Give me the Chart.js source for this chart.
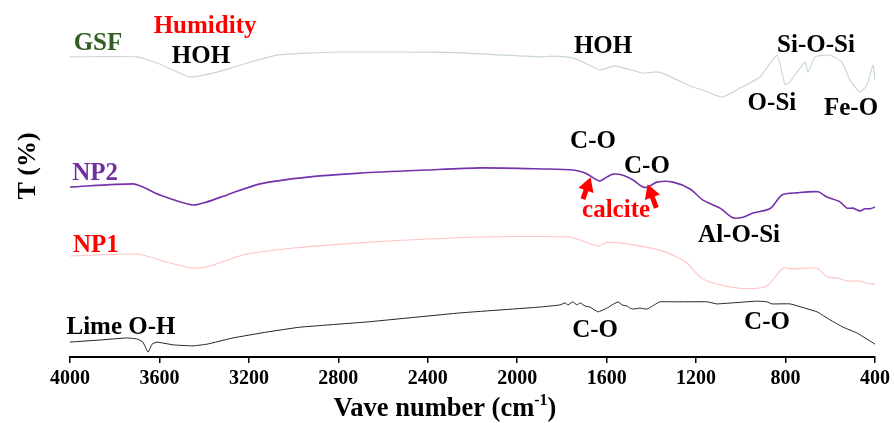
<!DOCTYPE html>
<html>
<head>
<meta charset="utf-8">
<script src="https://cdn.jsdelivr.net/npm/chart.js@4/dist/chart.umd.min.js"></script>
<style>
  html, body { margin: 0; padding: 0; background: #fff; }
  #wrap { width: 894px; height: 423px; }
</style>
</head>
<body>
<div id="wrap"><canvas id="ftir" width="894" height="423"></canvas></div>
<script>
// FTIR spectra, stacked with offsets (wavenumber in cm-1, transmittance in arbitrary %)
const tickValues = [4000, 3600, 3200, 2800, 2400, 2000, 1600, 1200, 800, 400];

const gsfWave = [4000,3700,3611,3530,3463,3343,3240,3074,2806,2314,2064,1885,1844,1751,1661,1630,1563,1438,1393,1362,1214,1169,1084,1004,914,838,802,780,713,700,668,601,548,512,467,436,409,400];
const gsfT    = [86.5,86.5,84.7,82.4,80.7,82.1,84.1,87.0,87.9,87.8,87.0,86.5,86.7,86.2,83.6,82.7,83.9,81.8,82.1,82.1,77.8,76.9,74.9,77.5,80.7,87.0,78.4,79.3,85.0,82.1,86.5,87.0,85.0,79.8,76.4,78.4,84.1,79.8];

const np2Wave = [4000,3718,3674,3598,3450,3387,3298,3150,2927,2703,2403,2166,1885,1751,1697,1643,1630,1598,1572,1527,1482,1438,1415,1375,1303,1227,1169,1093,1035,990,946,883,861,816,749,655,615,557,525,498,467,445,422,400];
const np2T    = [49.0,49.9,49.0,46.7,43.8,44.7,46.7,49.9,51.9,53.0,53.9,54.5,54.2,53.9,53.0,51.0,50.7,51.9,52.7,52.4,51.0,49.0,49.0,50.4,50.4,48.4,45.2,42.9,40.1,40.3,41.5,42.4,43.2,46.7,47.3,47.6,46.1,44.7,42.9,42.9,42.1,42.7,42.7,43.2];

const np1Wave = [4000,3700,3642,3553,3450,3374,3226,3003,2703,2403,2166,1764,1733,1639,1594,1509,1362,1286,1241,1183,1124,1017,914,879,811,767,659,615,570,525,467,436,409,400];
const np1T    = [29.1,29.7,28.8,27.1,25.6,26.2,29.4,31.4,32.9,34.0,34.6,34.6,34.0,32.0,33.1,32.6,30.8,28.8,27.1,23.1,21.3,19.9,19.9,20.7,25.6,25.4,25.6,23.1,22.8,21.9,21.9,21.3,21.0,21.3];

const limeWave = [4000,3866,3745,3700,3674,3651,3633,3611,3539,3450,3387,3271,3119,2971,2672,2256,1898,1809,1786,1773,1751,1733,1719,1697,1675,1639,1598,1576,1549,1531,1509,1496,1482,1451,1420,1362,1303,1151,1107,928,883,861,780,659,601,543,480,400];
const limeT    = [4.3,4.9,5.5,5.2,4.3,1.4,3.7,4.3,3.5,3.2,3.7,5.5,7.2,8.6,10.1,12.7,14.4,15.0,15.6,15.0,15.9,15.0,15.6,14.7,14.4,13.0,14.1,15.0,15.9,15.0,14.7,14.1,13.8,14.1,13.8,15.9,15.9,15.9,15.3,16.1,15.9,15.3,15.3,13.0,10.7,8.6,6.9,3.7];

const pairs = (w, t) => w.map((v, i) => ({ x: v, y: t[i] }));

// band assignments and sample names, placed at (wavenumber, T)
const notes = [
  { text: 'GSF',      at: [3875, 88.5], color: '#2f5f22' },
  { text: 'Humidity', at: [3396, 93.4], color: '#ff0000' },
  { text: 'HOH',      at: [3414, 84.7], color: '#000' },
  { text: 'HOH',      at: [1616, 87.6], color: '#000' },
  { text: 'Si-O-Si',  at: [664, 87.9],  color: '#000' },
  { text: 'O-Si',     at: [861, 71.2],  color: '#000' },
  { text: 'Fe-O',     at: [507, 69.7],  color: '#000' },
  { text: 'NP2',      at: [3888, 51.0], color: '#7030a0' },
  { text: 'C-O',      at: [1661, 60.2], color: '#000' },
  { text: 'C-O',      at: [1420, 53.0], color: '#000' },
  { text: 'calcite',  at: [1558, 40.3], color: '#ff0000' },
  { text: 'Al-O-Si',  at: [1008, 33.1], color: '#000' },
  { text: 'NP1',      at: [3884, 30.3], color: '#ff0000' },
  { text: 'Lime O-H', at: [3772, 6.6],  color: '#000' },
  { text: 'C-O',      at: [1652, 5.8],  color: '#000' },
  { text: 'C-O',      at: [883, 8.1],   color: '#000' }
];
const arrows = [
  { from: [1706, 45.5], to: [1672, 51.8] },
  { from: [1378, 43.0], to: [1417, 49.8] }
];

const FONT = '"Liberation Serif", "Times New Roman", serif';

const overlay = {
  id: 'overlay',
  afterDraw(chart) {
    const { ctx, scales: { x, y } } = chart;
    ctx.save();
    ctx.font = 'bold 25px ' + FONT;
    ctx.textAlign = 'center';
    ctx.textBaseline = 'alphabetic';
    notes.forEach(n => {
      ctx.fillStyle = n.color;
      ctx.fillText(n.text, x.getPixelForValue(n.at[0]), y.getPixelForValue(n.at[1]));
    });

    // red arrows pointing at the calcite bands
    ctx.fillStyle = '#ff0000';
    ctx.strokeStyle = '#ff0000';
    ctx.lineCap = 'butt';
    arrows.forEach(a => {
      const x0 = x.getPixelForValue(a.from[0]), y0 = y.getPixelForValue(a.from[1]);
      const x1 = x.getPixelForValue(a.to[0]),   y1 = y.getPixelForValue(a.to[1]);
      const ang = Math.atan2(y1 - y0, x1 - x0);
      const c = Math.cos(ang), s = Math.sin(ang);
      const head = 14, half = 8;
      const bx = x1 - head * c, by = y1 - head * s;
      ctx.lineWidth = 5;
      ctx.beginPath(); ctx.moveTo(x0, y0); ctx.lineTo(bx + 4 * c, by + 4 * s); ctx.stroke();
      ctx.beginPath();
      ctx.moveTo(x1, y1);
      ctx.lineTo(bx + half * s, by - half * c);
      ctx.lineTo(bx - half * s, by + half * c);
      ctx.closePath(); ctx.fill();
    });

    // axis titles
    ctx.fillStyle = '#000';
    ctx.font = 'bold 26px ' + FONT;
    ctx.save();
    ctx.translate(28, 166);
    ctx.rotate(-Math.PI / 2);
    ctx.textAlign = 'center';
    ctx.textBaseline = 'middle';
    ctx.fillText('T (%)', 0, 0);
    ctx.restore();

    const base = 416;
    const main = 'Vave number (cm';
    const sup = '-1';
    ctx.textAlign = 'left';
    ctx.font = 'bold 26.5px ' + FONT;
    const wMain = ctx.measureText(main).width;
    const wClose = ctx.measureText(')').width;
    ctx.font = 'bold 16px ' + FONT;
    const wSup = ctx.measureText(sup).width;
    let cx = 445 - (wMain + wSup + wClose) / 2;
    ctx.font = 'bold 26.5px ' + FONT;
    ctx.fillText(main, cx, base); cx += wMain;
    ctx.font = 'bold 16px ' + FONT;
    ctx.fillText(sup, cx, base - 11); cx += wSup;
    ctx.font = 'bold 26.5px ' + FONT;
    ctx.fillText(')', cx, base);
    ctx.restore();
  }
};

new Chart(document.getElementById('ftir'), {
  type: 'line',
  data: {
    datasets: [
      { label: 'GSF',  data: pairs(gsfWave, gsfT),   borderColor: 'rgb(200,216,200)', borderWidth: 1.1, tension: 0.15 },
      { label: 'NP2',  data: pairs(np2Wave, np2T),   borderColor: 'rgb(118,50,170)',  borderWidth: 1.6, tension: 0.25 },
      { label: 'NP1',  data: pairs(np1Wave, np1T),   borderColor: 'rgb(255,196,196)', borderWidth: 1.1, tension: 0.25 },
      { label: 'Lime', data: pairs(limeWave, limeT), borderColor: 'rgb(35,35,35)',    borderWidth: 1,   tension: 0.1 }
    ]
  },
  options: {
    responsive: false,
    animation: false,
    devicePixelRatio: 1,
    parsing: false,
    elements: { point: { radius: 0 } },
    layout: { padding: { left: 70, right: 19, top: 10, bottom: 36 } },
    plugins: { legend: { display: false }, tooltip: { enabled: false } },
    scales: {
      x: {
        type: 'linear',
        reverse: true,
        min: 400,
        max: 4000,
        afterBuildTicks: s => { s.ticks = tickValues.map(v => ({ value: v })); },
        afterFit: s => { s.height = 30; },
        ticks: {
          autoSkip: false,
          maxRotation: 0,
          padding: 4,
          color: '#000',
          font: { family: FONT, size: 20, weight: 'bold' },
          callback: v => String(v)
        },
        grid: { drawOnChartArea: false, drawTicks: true, tickLength: 6, color: '#000', lineWidth: 1.5 },
        border: { display: true, color: '#000', width: 2 }
      },
      y: { display: false, min: 0, max: 100 }
    }
  },
  plugins: [overlay]
});
</script>
</body>
</html>
